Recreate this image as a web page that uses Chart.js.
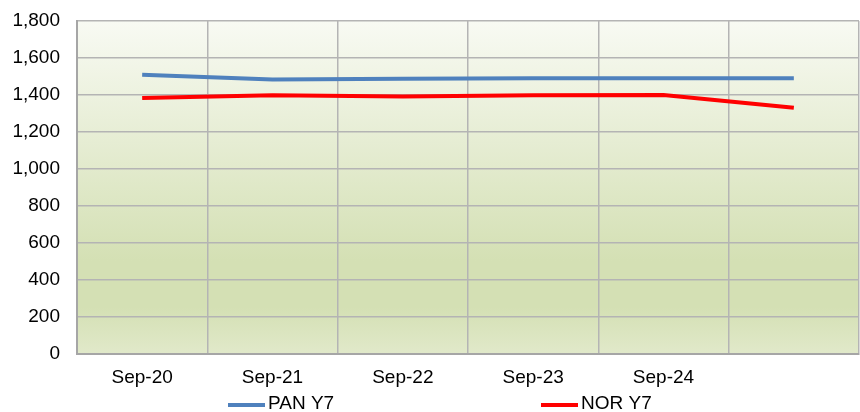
<!DOCTYPE html>
<html>
<head>
<meta charset="utf-8">
<script src="https://cdn.jsdelivr.net/npm/chart.js@4.4.1/dist/chart.umd.min.js"></script>
<style>
  html, body { margin: 0; padding: 0; background: #fff; }
  #wrap { width: 860px; height: 412px; }
</style>
</head>
<body>
<div id="wrap"><canvas id="Chart"></canvas></div>
<script>
const labels = ["Sep-20", "Sep-21", "Sep-22", "Sep-23", "Sep-24", ""];
const panY7 = [1510, 1484, 1488, 1490, 1490, 1490];
const norY7 = [1384, 1398, 1392, 1398, 1400, 1331];
const yTicks = [0, 200, 400, 600, 800, 1000, 1200, 1400, 1600, 1800];

const FONT = "'Liberation Sans', Arial, sans-serif";
const gridColor = "#b4b4b4";

// plot area gradient fill
const bgPlugin = {
  id: "plotBg",
  beforeDraw(chart) {
    const { ctx, chartArea: a } = chart;
    const g = ctx.createLinearGradient(0, a.top, 0, a.bottom);
    g.addColorStop(0, "#f8faf3");
    g.addColorStop(0.72, "#d4e0b4");
    g.addColorStop(0.86, "#d4e0b4");
    g.addColorStop(1, "#e1e9ca");
    ctx.save();
    ctx.fillStyle = g;
    ctx.fillRect(a.left, a.top, a.right - a.left, a.bottom - a.top);
    ctx.restore();
  },
};

// legend drawn under the axis, items spread apart like the original
const legendPlugin = {
  id: "wideLegend",
  afterDraw(chart) {
    const { ctx } = chart;
    const starts = [228, 541];
    ctx.save();
    ctx.font = "19px " + FONT;
    ctx.textBaseline = "middle";
    chart.data.datasets.forEach((ds, i) => {
      const x = starts[i];
      const y = 405;
      ctx.fillStyle = ds.borderColor;
      ctx.fillRect(x, y - 2, 37, 4);
      ctx.fillStyle = "#000";
      ctx.fillText(ds.label, x + 40, y - 1);
    });
    ctx.restore();
  },
};

const ctx = document.getElementById("Chart");

new Chart(ctx, {
  type: "line",
  data: {
    labels: labels,
    datasets: [
      {
        label: "PAN Y7",
        data: panY7,
        borderColor: "#4f81bd",
        backgroundColor: "#4f81bd",
        borderWidth: 4,
        pointRadius: 0,
        tension: 0,
      },
      {
        label: "NOR Y7",
        data: norY7,
        borderColor: "#ff0000",
        backgroundColor: "#ff0000",
        borderWidth: 4,
        pointRadius: 0,
        tension: 0,
      },
    ],
  },
  options: {
    responsive: true,
    maintainAspectRatio: false,
    animation: false,
    layout: { padding: { top: 21, right: 1, left: 0, bottom: 0 } },
    plugins: {
      legend: { display: false },
      tooltip: { enabled: false },
    },
    scales: {
      x: {
        offset: true,
        grid: { offset: true, color: gridColor, lineWidth: 1.5, drawTicks: false },
        border: { color: "#a6a6a6", width: 2 },
        ticks: { color: "#000", font: { family: FONT, size: 19 }, padding: 12, maxRotation: 0, autoSkip: false },
        afterFit: (s) => { s.height = 58; },
      },
      y: {
        min: 0,
        max: 1800,
        afterBuildTicks: (s) => { s.ticks = yTicks.map((v) => ({ value: v })); },
        grid: { color: gridColor, lineWidth: 1.5, drawTicks: false },
        border: { color: "#a6a6a6", width: 2 },
        ticks: {
          color: "#000",
          font: { family: FONT, size: 19, lineHeight: 1 },
          padding: 17,
          callback: (v) => v.toLocaleString("en-US"),
        },
        afterFit: (s) => { s.width = 77; s.paddingTop = 0; },
      },
    },
  },
  plugins: [bgPlugin, legendPlugin],
});
</script>
</body>
</html>
